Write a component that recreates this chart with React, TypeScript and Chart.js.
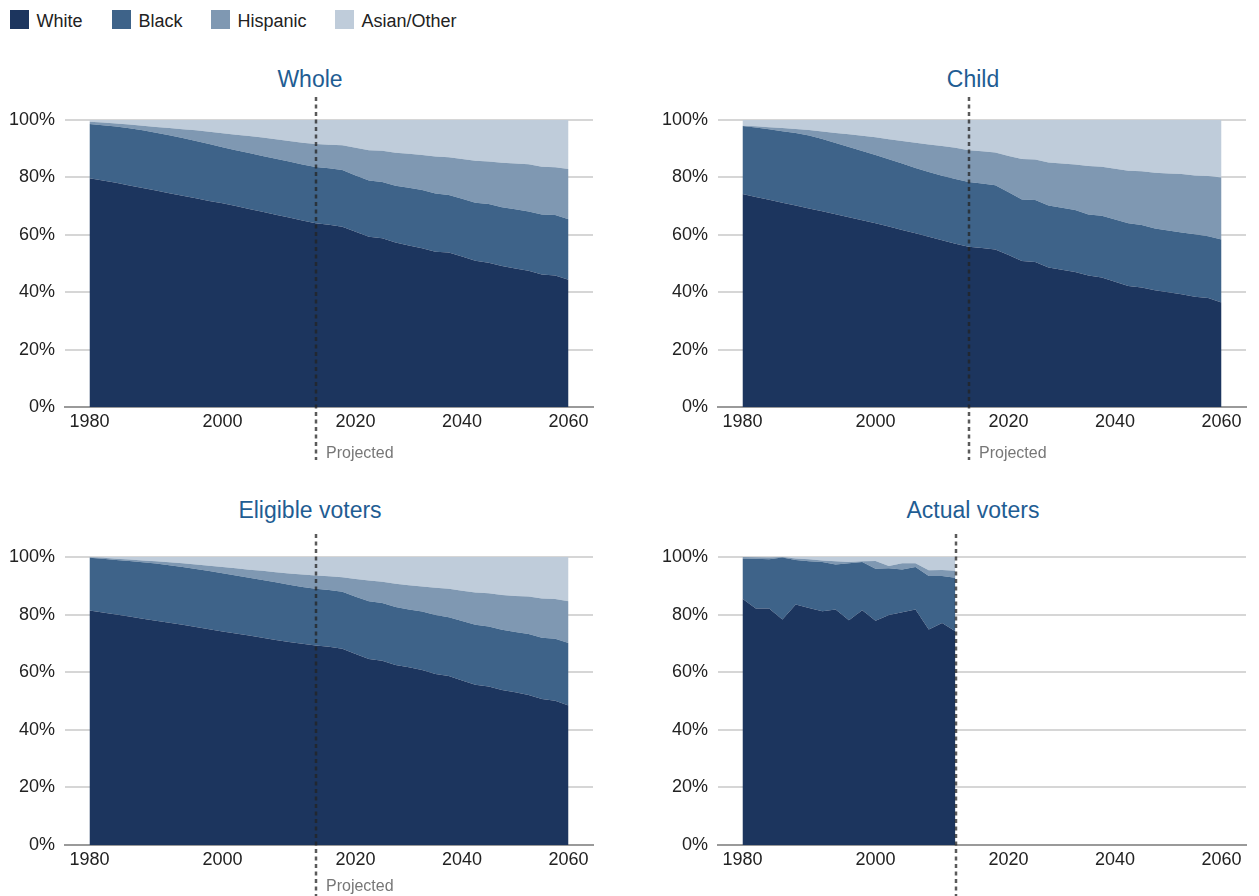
import React, { useEffect, useRef } from 'react';
import { Chart, registerables } from 'chart.js';

Chart.register(...registerables);

const FONT = '"Liberation Sans", Arial, sans-serif';

// Category years (historical every 2 years, projections every 2.5 years)
const years = [
  1980, 1982, 1984, 1986, 1988, 1990, 1992, 1994, 1996, 1998, 2000, 2002, 2004,
  2006, 2008, 2010, 2012, 2014, 2016, 2018, 2020, 2022.5, 2025, 2027.5, 2030,
  2032.5, 2035, 2037.5, 2040, 2042.5, 2045, 2047.5, 2050, 2052.5, 2055, 2057.5, 2060,
];
const tickYears = [1980, 2000, 2020, 2040, 2060];
const yTicks = [0, 20, 40, 60, 80, 100];

const seriesNames = ['White', 'Black', 'Hispanic', 'Asian/Other'];
const seriesColors = ['#1c355e', '#3e6389', '#7f98b2', '#bfccda'];

const projectedFromYear = 2014;
const actualLastYear = 2012;

// Whole population (% share)
const wholeWhite = [79.7, 78.9, 78.1, 77.2, 76.3, 75.4, 74.5, 73.6, 72.7, 71.8, 71.0, 70.0, 69.0, 68.0, 67.0, 66.0, 65.0, 64.0, 63.5, 62.8, 61.1, 59.3, 58.8, 57.3, 56.3, 55.3, 54.1, 53.8, 52.4, 51.0, 50.3, 49.1, 48.3, 47.5, 46.2, 45.8, 44.3];
const wholeBlack = [18.9, 19.3, 19.6, 19.9, 20.1, 20.2, 20.2, 20.1, 20.0, 19.8, 19.5, 19.5, 19.5, 19.5, 19.5, 19.5, 19.5, 19.6, 19.7, 19.8, 19.6, 19.6, 19.6, 19.8, 20.1, 20.3, 20.3, 20.1, 20.2, 20.2, 20.4, 20.5, 20.6, 20.6, 20.9, 21.1, 21.1];
const wholeHispanic = [0.8, 0.9, 1.1, 1.3, 1.6, 2.0, 2.5, 3.1, 3.7, 4.3, 4.9, 5.4, 5.9, 6.4, 6.8, 7.2, 7.6, 8.0, 8.2, 8.6, 9.6, 10.6, 10.9, 11.5, 11.8, 12.2, 12.9, 13.1, 13.8, 14.6, 14.8, 15.5, 15.9, 16.5, 16.6, 16.6, 17.5];
const wholeAsian = [0.6, 0.9, 1.2, 1.6, 2.0, 2.4, 2.8, 3.2, 3.6, 4.1, 4.6, 5.1, 5.6, 6.1, 6.7, 7.3, 7.9, 8.4, 8.6, 8.8, 9.7, 10.5, 10.7, 11.4, 11.8, 12.2, 12.7, 13.0, 13.6, 14.2, 14.5, 14.9, 15.2, 15.4, 16.3, 16.5, 17.1];

// Child population
const childWhite = [74.2, 73.2, 72.2, 71.2, 70.2, 69.2, 68.2, 67.2, 66.1, 65.1, 64.0, 62.9, 61.7, 60.5, 59.3, 58.1, 56.9, 55.8, 55.4, 54.9, 53.0, 50.9, 50.5, 48.6, 47.8, 47.0, 45.8, 45.1, 43.6, 42.2, 41.6, 40.7, 40.0, 39.3, 38.4, 38.0, 36.4];
const childBlack = [23.7, 24.2, 24.6, 24.9, 25.3, 25.4, 25.2, 24.8, 24.5, 24.1, 23.8, 23.4, 23.1, 22.8, 22.6, 22.5, 22.5, 22.6, 22.5, 22.4, 21.8, 21.4, 21.6, 21.6, 21.6, 21.6, 21.3, 21.5, 21.7, 21.8, 21.8, 21.5, 21.5, 21.5, 21.8, 21.5, 22.0];
const childHispanic = [0.1, 0.4, 0.7, 1.1, 1.4, 1.9, 2.6, 3.5, 4.4, 5.3, 6.2, 7.0, 7.9, 8.8, 9.6, 10.3, 10.9, 11.1, 11.2, 11.4, 12.7, 14.1, 14.1, 15.0, 15.4, 15.9, 16.9, 17.1, 17.7, 18.3, 18.7, 19.4, 19.9, 20.4, 20.5, 21.0, 21.6];
const childAsian = [2.0, 2.2, 2.5, 2.8, 3.1, 3.5, 4.0, 4.5, 5.0, 5.5, 6.0, 6.7, 7.3, 7.9, 8.5, 9.1, 9.7, 10.5, 10.9, 11.3, 12.5, 13.6, 13.8, 14.8, 15.2, 15.5, 16.0, 16.3, 17.0, 17.7, 17.9, 18.4, 18.6, 18.8, 19.3, 19.5, 20.0];

// Eligible voters
const eligibleWhite = [81.4, 80.7, 80.0, 79.3, 78.6, 77.9, 77.2, 76.5, 75.7, 74.9, 74.1, 73.4, 72.7, 72.0, 71.2, 70.5, 69.9, 69.3, 68.8, 68.1, 66.3, 64.6, 64.0, 62.5, 61.7, 60.8, 59.4, 58.7, 57.1, 55.6, 55.0, 53.8, 53.0, 52.1, 50.7, 50.1, 48.4];
const eligibleBlack = [18.3, 18.7, 19.0, 19.3, 19.6, 19.8, 19.9, 20.0, 20.1, 20.2, 20.3, 20.2, 20.1, 20.0, 20.0, 19.9, 19.7, 19.7, 19.7, 19.8, 19.9, 20.0, 20.0, 20.1, 20.1, 20.3, 20.5, 20.4, 20.7, 20.9, 20.9, 20.9, 21.0, 21.2, 21.3, 21.5, 21.7];
const eligibleHispanic = [0.2, 0.3, 0.4, 0.5, 0.6, 0.8, 1.1, 1.3, 1.6, 1.9, 2.1, 2.5, 2.8, 3.2, 3.5, 3.9, 4.3, 4.6, 4.8, 5.1, 6.2, 7.2, 7.4, 8.1, 8.4, 8.7, 9.4, 9.9, 10.5, 11.2, 11.5, 12.1, 12.5, 13.0, 13.6, 13.8, 14.5];
const eligibleAsian = [0.1, 0.3, 0.6, 0.9, 1.2, 1.5, 1.8, 2.2, 2.6, 3.0, 3.5, 3.9, 4.4, 4.8, 5.3, 5.7, 6.1, 6.4, 6.7, 7.0, 7.6, 8.2, 8.6, 9.3, 9.8, 10.2, 10.7, 11.0, 11.7, 12.3, 12.6, 13.2, 13.5, 13.7, 14.4, 14.6, 15.4];

// Actual voters (1980–2012)
const actualWhite = [85.5, 82.1, 82.1, 78.3, 83.5, 82.3, 81.2, 81.8, 78.0, 81.5, 77.9, 79.9, 80.8, 81.8, 74.8, 77.1, 74.2];
const actualBlack = [14.0, 17.3, 17.1, 21.5, 15.5, 16.2, 17.1, 15.6, 19.8, 16.8, 18.0, 16.2, 14.9, 14.7, 18.6, 16.3, 18.6];
const actualHispanic = [0.5, 0.5, 0.6, 0.2, 0.5, 0.7, 0.5, 1.1, 0.5, 0.2, 2.7, 0.8, 2.1, 1.3, 2.0, 2.1, 2.4];
const actualAsian = [0.0, 0.1, 0.2, 0.0, 0.5, 0.8, 1.2, 1.5, 1.7, 1.5, 1.4, 3.1, 2.2, 2.2, 4.6, 4.5, 4.8];

const projLinePlugin = {
  id: 'projLine',
  afterDraw(chart: any, _args: any, opts: any) {
    const { ctx, chartArea, scales } = chart;
    const x = Math.round(scales.x.getPixelForValue(opts.index)) + opts.shift;
    ctx.save();
    ctx.strokeStyle = 'rgba(35,35,35,0.75)';
    ctx.lineWidth = 2.5;
    ctx.setLineDash([4, 3.5]);
    ctx.beginPath();
    ctx.moveTo(x, chartArea.top - 23);
    ctx.lineTo(x, chartArea.bottom + 53);
    ctx.stroke();
    if (opts.label) {
      ctx.setLineDash([]);
      ctx.fillStyle = '#777777';
      ctx.font = '16px ' + FONT;
      ctx.textBaseline = 'middle';
      ctx.textAlign = 'left';
      ctx.fillText(opts.label, x + 10, chartArea.bottom + opts.labelOffset);
    }
    ctx.restore();
  },
};

type PanelProps = {
  left: number;
  top: number;
  width: number;
  height: number;
  padRight: number;
  padBottom: number;
  title: string;
  titleTop: number;
  series: number[][];
  markYear: number;
  markShift: number;
  label: string;
  labelOffset: number;
};

function Panel(p: PanelProps) {
  const ref = useRef<HTMLCanvasElement | null>(null);
  useEffect(() => {
    if (!ref.current) return;
    const datasets = p.series.map((vals, si) => ({
      label: seriesNames[si],
      data: vals.map((v, i) => ({ x: i, y: v })),
      backgroundColor: seriesColors[si],
      borderColor: 'rgba(0,0,0,0)',
      borderWidth: 0,
      pointRadius: 0,
      tension: 0,
      fill: si === 0 ? 'origin' : '-1',
    }));
    const chart = new Chart(ref.current, {
      type: 'line',
      data: { datasets },
      plugins: [projLinePlugin],
      options: {
        animation: false,
        responsive: false,
        devicePixelRatio: 1,
        layout: { padding: { left: 0, right: p.padRight, top: 60, bottom: p.padBottom } },
        plugins: {
          legend: { display: false },
          tooltip: { enabled: false },
          projLine: {
            index: years.indexOf(p.markYear),
            shift: p.markShift,
            label: p.label,
            labelOffset: p.labelOffset,
          },
        } as any,
        scales: {
          x: {
            type: 'linear',
            min: -1.84,
            max: 37.84,
            z: 1,
            grid: { display: false, drawTicks: false },
            border: { display: true, color: '#9a9a9a', width: 2 },
            afterBuildTicks: (scale: any) => {
              scale.ticks = tickYears.map((y) => ({ value: years.indexOf(y) }));
            },
            afterFit: (scale: any) => {
              scale.height = 40;
            },
            ticks: {
              autoSkip: false,
              maxRotation: 0,
              padding: 4,
              color: '#222222',
              font: { family: FONT, size: 18 },
              callback: (v: any) => String(years[Math.round(v)]),
            },
          },
          y: {
            stacked: true,
            min: 0,
            max: 100,
            z: 1,
            grid: { color: 'rgba(0,0,0,0.16)', lineWidth: 2, drawTicks: false },
            border: { display: false },
            afterBuildTicks: (scale: any) => {
              scale.ticks = yTicks.map((v) => ({ value: v }));
            },
            afterFit: (scale: any) => {
              scale.width = 65;
            },
            ticks: {
              padding: 10,
              color: '#222222',
              font: { family: FONT, size: 18 },
              callback: (v: any) => v + '%',
            },
          },
        } as any,
      },
    } as any);
    return () => chart.destroy();
  }, []);
  return (
    <>
      <div
        style={{
          position: 'absolute',
          left: p.left,
          top: p.titleTop,
          width: p.left === 0 ? 620 : 640,
          textAlign: 'center',
          fontFamily: FONT,
          fontSize: 23,
          lineHeight: '23px',
          color: '#1f5d93',
          whiteSpace: 'nowrap',
        }}
      >
        {p.title}
      </div>
      <canvas
        ref={ref}
        width={p.width}
        height={p.height}
        style={{ position: 'absolute', left: p.left, top: p.top, width: p.width, height: p.height }}
      />
    </>
  );
}

const legendX = [10, 112, 211, 335];

export default function App() {
  return (
    <div
      style={{
        position: 'fixed',
        left: 0,
        top: 0,
        width: 1259,
        height: 896,
        background: '#ffffff',
        overflow: 'hidden',
      }}
    >
      {seriesNames.map((name, i) => (
        <React.Fragment key={name}>
          <div
            style={{
              position: 'absolute',
              left: legendX[i],
              top: 10,
              width: 19,
              height: 19,
              background: seriesColors[i],
            }}
          />
          <div
            style={{
              position: 'absolute',
              left: legendX[i] + 26.5,
              top: 12,
              fontFamily: FONT,
              fontSize: 18,
              lineHeight: '18px',
              color: '#222222',
              whiteSpace: 'nowrap',
            }}
          >
            {name}
          </div>
        </React.Fragment>
      ))}
      <Panel
        left={0}
        top={60}
        width={620}
        height={410}
        padRight={27}
        padBottom={23}
        title="Whole"
        titleTop={67.5}
        series={[wholeWhite, wholeBlack, wholeHispanic, wholeAsian]}
        markYear={projectedFromYear}
        markShift={0}
        label="Projected"
        labelOffset={47}
      />
      <Panel
        left={653}
        top={60}
        width={606}
        height={410}
        padRight={13}
        padBottom={23}
        title="Child"
        titleTop={67.5}
        series={[childWhite, childBlack, childHispanic, childAsian]}
        markYear={projectedFromYear}
        markShift={0}
        label="Projected"
        labelOffset={47}
      />
      <Panel
        left={0}
        top={497}
        width={620}
        height={399}
        padRight={27}
        padBottom={11}
        title="Eligible voters"
        titleTop={499}
        series={[eligibleWhite, eligibleBlack, eligibleHispanic, eligibleAsian]}
        markYear={projectedFromYear}
        markShift={0}
        label="Projected"
        labelOffset={42}
      />
      <Panel
        left={653}
        top={497}
        width={606}
        height={399}
        padRight={13}
        padBottom={11}
        title="Actual voters"
        titleTop={499}
        series={[actualWhite, actualBlack, actualHispanic, actualAsian]}
        markYear={actualLastYear}
        markShift={1}
        label=""
        labelOffset={42}
      />
    </div>
  );
}
